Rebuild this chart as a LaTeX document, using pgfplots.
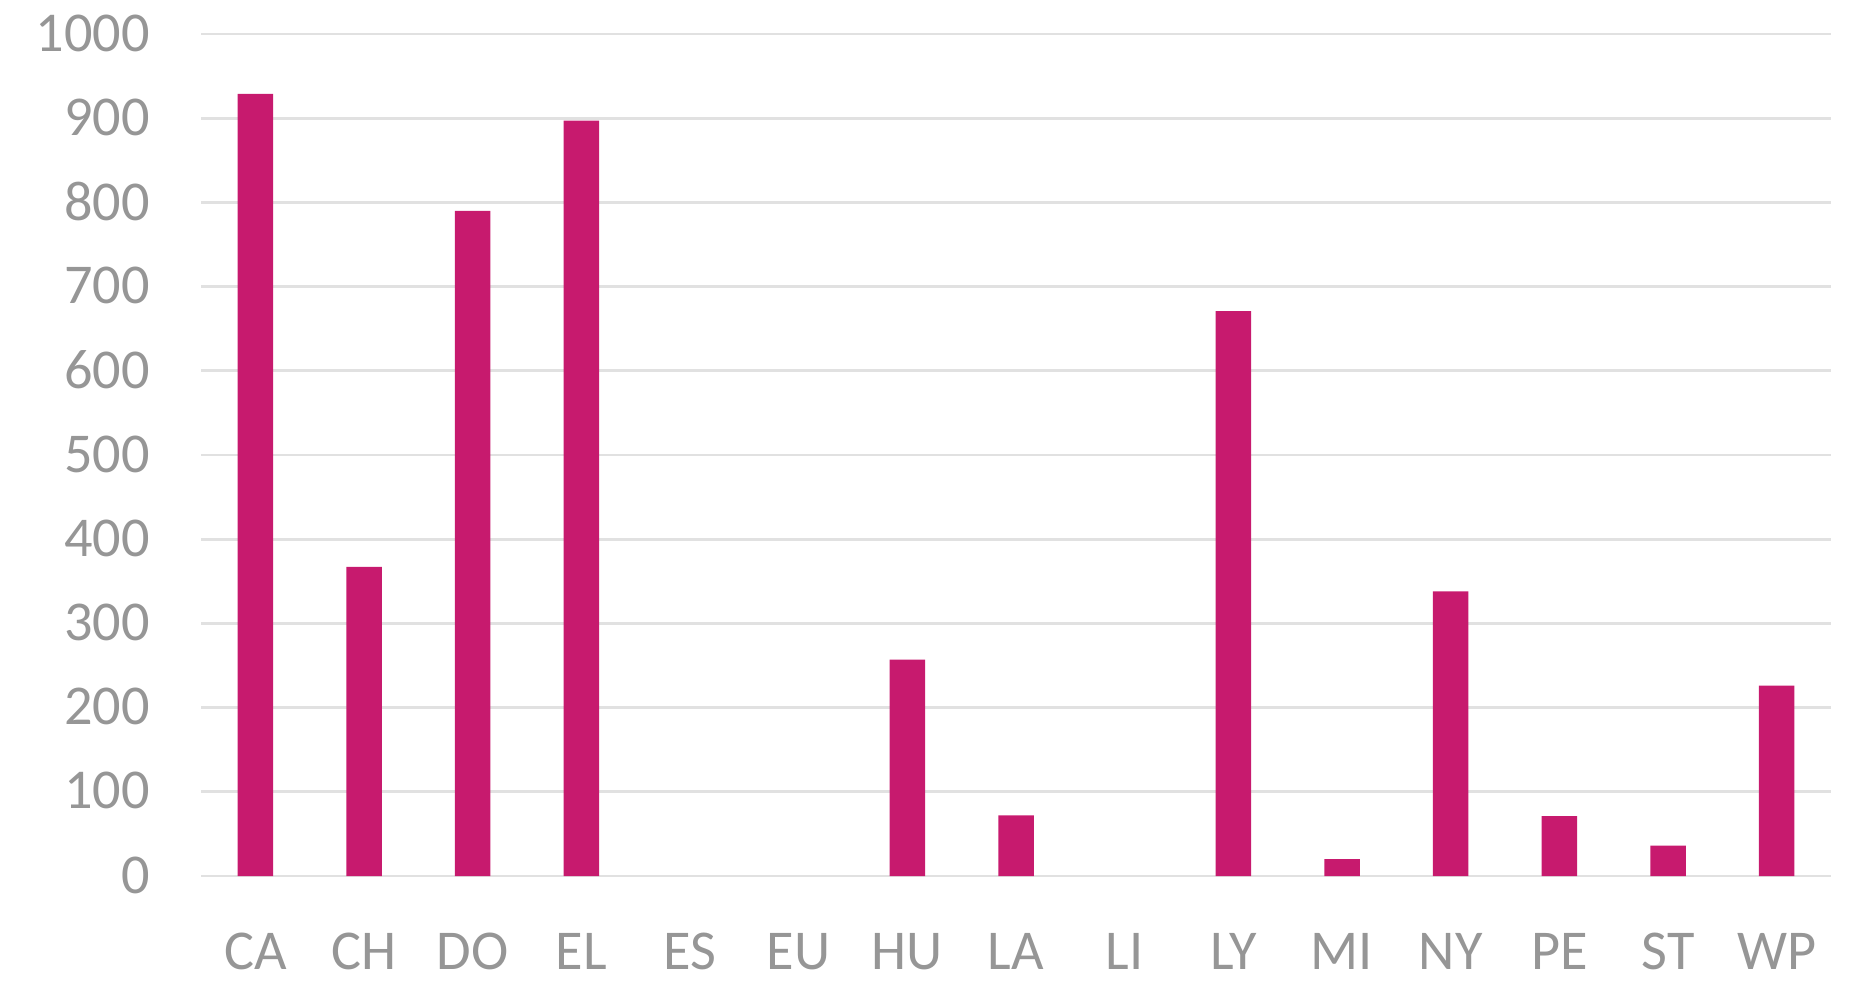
\documentclass[border=0pt]{standalone}
\usepackage{fontspec}
\setmainfont{Carlito}
\usepackage{pgfplots}
\pgfplotsset{compat=1.18}
\definecolor{barc}{RGB}{199,26,110}
\definecolor{tickc}{RGB}{150,150,150}
\definecolor{gridc}{RGB}{225,225,225}
\begin{document}
\begin{tikzpicture}
\path[use as bounding box] (-2.01cm,-1.05cm) rectangle (16.55cm,8.76cm);
\begin{axis}[
  at={(0,0)}, anchor=south west,
  scale only axis, width=16.30cm, height=8.42cm,
  xmin=-0.5, xmax=14.5, ymin=0, ymax=1000,
  ytick={0,100,...,1000},
  xtick={0,...,14},
  xticklabels={CA,CH,DO,EL,ES,EU,HU,LA,LI,LY,MI,NY,PE,ST,WP},
  axis line style={draw=none},
  major tick length=0pt,
  ymajorgrids, grid style={gridc, line width=0.8pt},
  ybar, bar width=0.355cm,
  tick label style={font=\fontsize{16}{19}\selectfont, text=tickc},
  /pgf/number format/assume math mode=true,
  /pgf/number format/set thousands separator={},
  yticklabel style={xshift=-0.39cm, yshift=0.01cm},
  xticklabel style={yshift=-0.45cm},
]
\addplot[fill=barc, draw=none] coordinates {
(0,929) (1,367) (2,790) (3,897) (6,257) (7,72) (9,671) (10,20) (11,338) (12,71) (13,36) (14,226)
};
\end{axis}
\end{tikzpicture}
\end{document}
